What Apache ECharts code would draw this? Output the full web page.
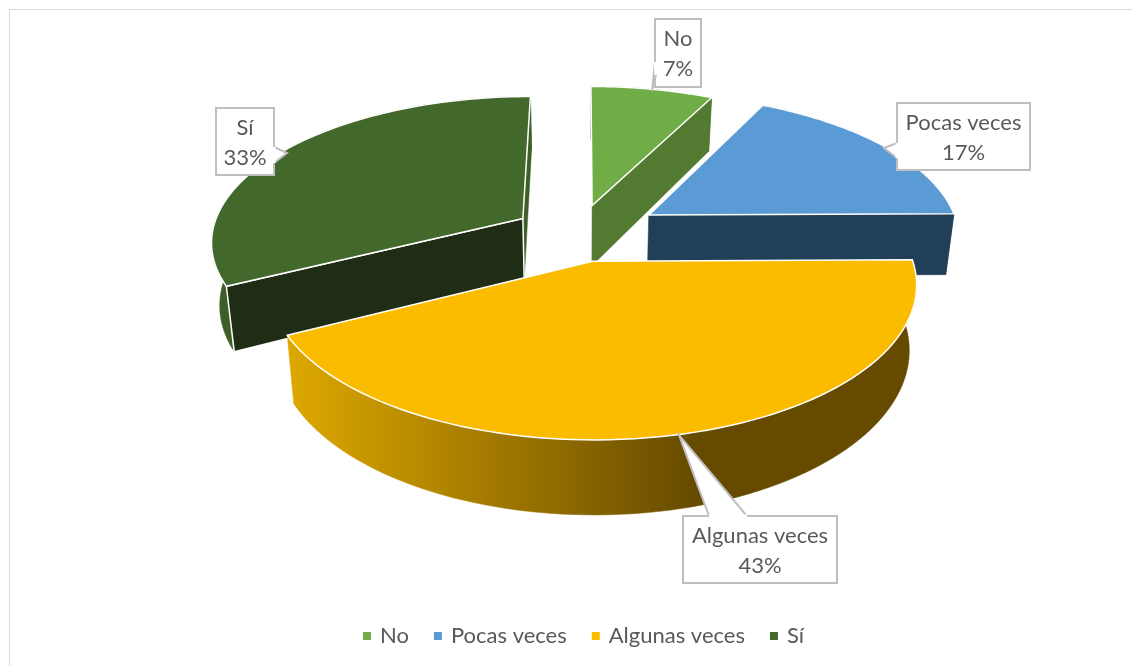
<!DOCTYPE html>
<html>
<head>
<meta charset="utf-8">
<style>
  html, body { margin: 0; padding: 0; background: #fff; }
  #chart { width: 1132px; height: 666px; }
</style>
<script src="https://cdn.jsdelivr.net/npm/echarts@6/dist/echarts.min.js"></script>
</head>
<body>
<div id="chart"></div>
<script>
// data (labels round these to 7, 17, 43, 33)
const categories = ['No', 'Pocas veces', 'Algunas veces', 'Sí'];
const shares = [7.4, 17.45, 42.65, 32.5];

// slice colours, null = that cut face is never seen
const topColors = ['#70ad47', '#5b9bd5', '#fbbc00', '#43682b'];
const startFaceColors = [null, null, null, '#1e2d13'];
const endFaceColors = ['#527a31', '#223f58', null, '#3d5f27'];
const wallColors = ['#527a31', '#223f58', null, '#3d5f27'];
const yellowWall = {
  type: 'linear', x: 285, y: 0, x2: 700, y2: 0, global: true,
  colorStops: [
    { offset: 0, color: '#dfa900' },
    { offset: 1, color: '#654a00' }
  ]
};

// how far each slice is pulled out of the pie, in radius units [x, depth]
const explode = [[0.03, 0.19], [0.215, 0.12], [0.03, -0.198], [-0.196, 0.095]];

// callouts: box [x, y, w, h], pointer [start, tip, end]
const callouts = [
  { box: [655, 19, 46, 68], ptr: [[655, 62], [652, 91], [656, 75]] },
  { box: [897, 103, 133, 67], ptr: [[897, 143], [884, 148], [897, 158]] },
  { box: [683, 516, 154, 67], ptr: [[709, 516], [679, 435], [747, 516]] },
  { box: [216, 108, 58, 67], ptr: [[274, 147], [287, 153], [274, 163]] }
];

// perspective of the tilted pie
const view = { cx: 583, cy: 232, fx: 311, fy: 143.4, k: 0.145, depth: 62, shrink: 0.022 };

function project(x, z, low) {
  const w = 1 + view.k * z;
  const s = low ? 1 - view.shrink : 1;
  return [
    view.cx + view.fx * x * s / w,
    view.cy - view.fy * z / w + (low ? view.depth / w : 0)
  ];
}

const total = shares.reduce((a, b) => a + b, 0);

function renderSlice(index, params, api) {
  const value = api.value(0);
  const before = shares.slice(0, index).reduce((a, b) => a + b, 0);
  const start = before / total * Math.PI * 2;
  const end = start + value / total * Math.PI * 2;
  const [ex, ez] = explode[index];

  const topArc = [];
  const lowArc = [];
  const steps = 80;
  for (let i = 0; i <= steps; i++) {
    const a = start + (end - start) * i / steps;
    const x = ex + Math.sin(a);
    const z = ez + Math.cos(a);
    topArc.push(project(x, z, false));
    lowArc.push(project(x, z, true));
  }
  const apexTop = project(ex, ez, false);
  const apexLow = project(ex, ez, true);

  const edge = { stroke: '#fff', lineWidth: 1.5 };
  const wallFill = wallColors[index] || yellowWall;
  const children = [
    {
      type: 'polygon',
      shape: { points: topArc.concat(lowArc.slice().reverse()) },
      style: { fill: wallFill, stroke: wallFill, lineWidth: 0.5 }
    }
  ];
  if (endFaceColors[index]) {
    children.push({
      type: 'polygon',
      shape: { points: [apexTop, topArc[steps], lowArc[steps], apexLow] },
      style: { fill: endFaceColors[index], stroke: endFaceColors[index], lineWidth: 0.5 }
    });
  }
  if (startFaceColors[index]) {
    children.push({
      type: 'polygon',
      shape: { points: [apexTop, topArc[0], lowArc[0], apexLow] },
      style: { fill: startFaceColors[index], ...edge }
    });
  }
  children.push({
    type: 'polygon',
    shape: { points: [apexTop].concat(topArc) },
    style: { fill: topColors[index], ...edge }
  });

  // callout box with its pointer
  const c = callouts[index];
  const [bx, by, bw, bh] = c.box;
  children.push({
    type: 'rect',
    shape: { x: bx, y: by, width: bw, height: bh },
    style: { fill: '#fff', stroke: '#bfbfbf', lineWidth: 2 }
  });
  children.push({
    type: 'polygon',
    shape: { points: c.ptr },
    style: { fill: '#fff', stroke: '#bfbfbf', lineWidth: 2 }
  });
  // hide the box border where the pointer joins it
  children.push({
    type: 'line',
    shape: { x1: c.ptr[0][0], y1: c.ptr[0][1], x2: c.ptr[2][0], y2: c.ptr[2][1] },
    style: { stroke: '#fff', lineWidth: 3 }
  });
  children.push({
    type: 'text',
    style: {
      text: categories[index] + '\n' + Math.round(value) + '%',
      x: bx + bw / 2,
      y: by + bh / 2 + 1,
      align: 'center',
      verticalAlign: 'middle',
      lineHeight: 30,
      fill: '#595959',
      font: '22px Lato'
    }
  });

  return { type: 'group', children };
}

const chart = echarts.init(document.getElementById('chart'));

chart.setOption({
  animation: false,
  textStyle: { fontFamily: 'Lato' },
  legend: {
    data: categories,
    left: 358,
    top: 620,
    icon: 'rect',
    itemWidth: 8,
    itemHeight: 8,
    itemGap: 25,
    selectedMode: false,
    textStyle: { fontSize: 22, color: '#595959', fontFamily: 'Lato', padding: [0, 0, 0, 4] }
  },
  graphic: [
    { type: 'line', shape: { x1: 9, y1: 9.5, x2: 1132, y2: 9.5 }, style: { stroke: '#d9d9d9', lineWidth: 1 } },
    { type: 'line', shape: { x1: 9.5, y1: 9, x2: 9.5, y2: 666 }, style: { stroke: '#d9d9d9', lineWidth: 1 } }
  ],
  // back slices first so the front ones cover them
  series: categories.map((name, i) => ({
    name,
    type: 'custom',
    coordinateSystem: 'none',
    z: [2, 3, 5, 4][i],
    itemStyle: { color: topColors[i] },
    silent: true,
    data: [shares[i]],
    renderItem: (params, api) => renderSlice(i, params, api)
  }))
});
</script>
</body>
</html>
